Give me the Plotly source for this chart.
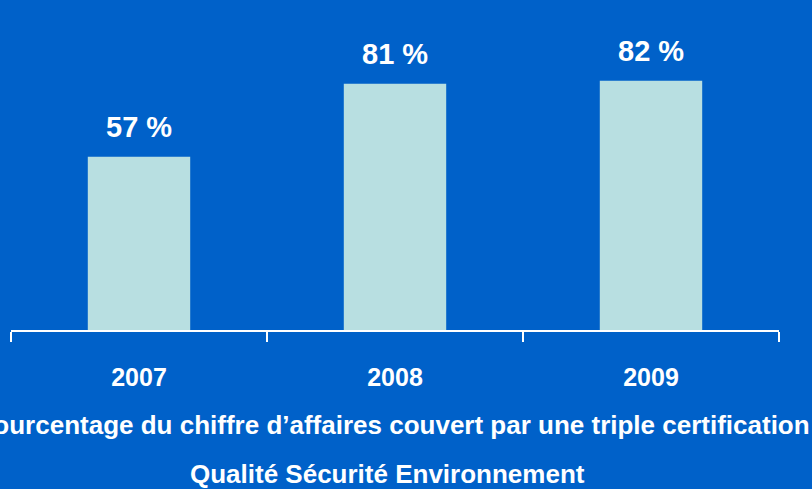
import plotly.graph_objects as go

years = ["2007", "2008", "2009"]
values = [57, 81, 82]
labels = ["57 %", "81 %", "82 %"]
title_line1 = "Pourcentage du chiffre d\u2019affaires couvert par une triple certification"
title_line2 = "Qualité Sécurité Environnement"

BG = "#0061C9"
BAR = "#B8DFE1"
FONT = "Liberation Sans, Arial, sans-serif"

fig = go.Figure(
    go.Bar(x=years, y=values, marker=dict(color=BAR, line=dict(width=0)), hoverinfo="skip")
)

# category axis: annotation x given as the category index
for i, (v, lab) in enumerate(zip(values, labels)):
    fig.add_annotation(
        x=i, y=v, text=lab, showarrow=False,
        yanchor="bottom", yshift=12,
        font=dict(family=FONT, size=29, color="white", weight="bold"),
    )

fig.add_annotation(
    xref="paper", yref="paper", x=0.497, y=-0.3125, text=title_line1,
    showarrow=False, xanchor="center", yanchor="middle",
    font=dict(family=FONT, size=26, color="white", weight="bold"),
)
fig.add_annotation(
    xref="paper", yref="paper", x=0.49, y=-0.474, text=title_line2,
    showarrow=False, xanchor="center", yanchor="middle",
    font=dict(family=FONT, size=26, color="white", weight="bold"),
)

fig.update_layout(
    width=812, height=489,
    margin=dict(l=11, r=33, t=26, b=159),
    paper_bgcolor=BG, plot_bgcolor=BG,
    bargap=0.6, showlegend=False,
    xaxis=dict(
        type="category", tickson="boundaries", ticks="outside", ticklen=10,
        tickwidth=2, tickcolor="white", showline=True, linecolor="white", linewidth=2,
        showgrid=False, zeroline=False, ticklabelstandoff=24, tickangle=0,
        tickfont=dict(family=FONT, size=25, color="white", weight="bold"),
        range=[-0.5, len(years) - 0.5], fixedrange=True,
    ),
    yaxis=dict(range=[0, 100], visible=False, showgrid=False, zeroline=False, fixedrange=True),
)

fig.write_html(
    "out.html",
    config={"displayModeBar": False},
    post_script="document.body.style.margin='0';document.body.style.padding='0';",
)
